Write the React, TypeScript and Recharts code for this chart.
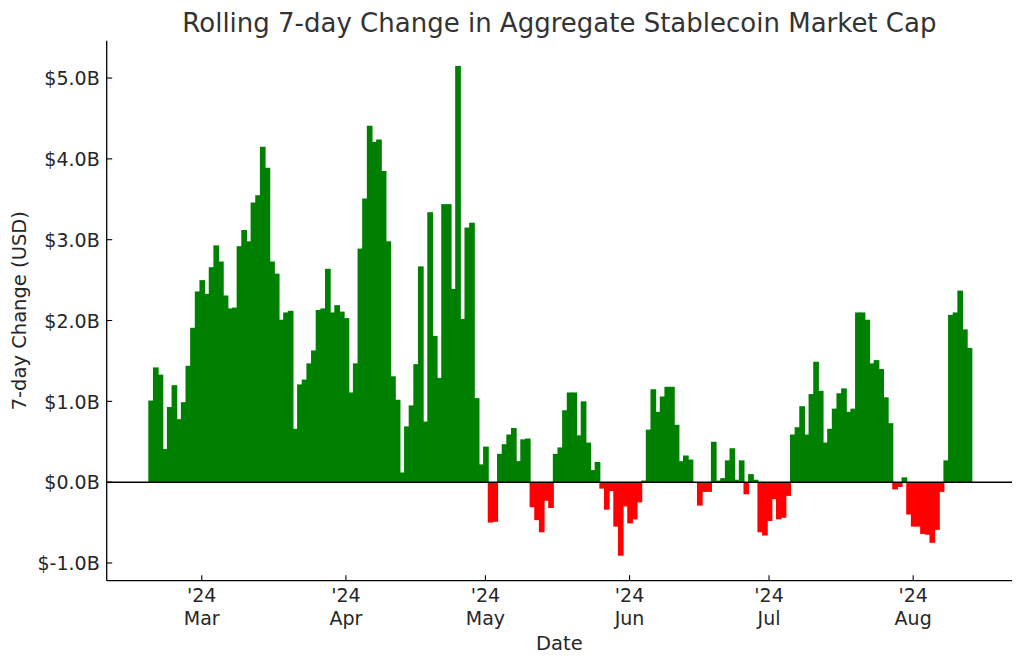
import React from 'react';
import { BarChart, Bar, XAxis, YAxis, ReferenceLine, Label } from 'recharts';

// Rolling 7-day change, billions of USD, one bar per day starting 2024-02-19
const febValues = [1.01, 1.42, 1.33, 0.41, 0.93, 1.2, 0.78, 0.99, 1.44, 1.91, 2.36];
const marValues = [
  2.5, 2.33, 2.66, 2.93, 2.73, 2.31, 2.15, 2.16, 2.92, 3.12, 2.98, 3.46, 3.55, 4.15, 3.89, 2.73,
  2.58, 2.01, 2.1, 2.12, 0.66, 1.21, 1.27, 1.47, 1.63, 2.13, 2.15, 2.64, 2.1, 2.19, 2.11,
];
const aprValues = [
  2.03, 1.11, 1.47, 2.89, 3.51, 4.41, 4.21, 4.24, 3.85, 2.98, 1.31, 1.02, 0.12, 0.69, 0.95, 1.46,
  2.67, 0.75, 3.34, 1.81, 1.29, 3.44, 3.44, 2.39, 5.15, 2.02, 3.15, 3.21, 1.04, 0.22,
];
const mayValues = [
  0.44, -0.5, -0.49, 0.35, 0.47, 0.59, 0.67, 0.26, 0.53, 0.54, -0.31, -0.47, -0.62, -0.23, -0.32,
  0.35, 0.43, 0.89, 1.11, 1.11, 0.58, 1.0, 0.49, 0.15, 0.25, -0.08, -0.34, -0.11, -0.55, -0.91, -0.3,
];
const junValues = [
  -0.51, -0.46, -0.25, 0.02, 0.65, 1.15, 0.87, 1.06, 1.18, 1.18, 0.71, 0.26, 0.33, 0.28, 0.0,
  -0.29, -0.12, -0.12, 0.5, 0.02, 0.05, 0.27, 0.42, 0.03, 0.27, -0.15, 0.1, 0.03, -0.62, -0.66,
];
const julValues = [
  -0.48, -0.21, -0.46, -0.44, -0.17, 0.59, 0.68, 0.94, 0.59, 1.09, 1.49, 1.13, 0.49, 0.66, 0.91,
  1.1, 1.16, 0.87, 0.91, 2.1, 2.1, 2.01, 1.47, 1.51, 1.4, 1.05, 0.73, -0.09, -0.06, 0.06, -0.4,
];
const augValues = [-0.55, -0.55, -0.64, -0.65, -0.75, -0.59, -0.12, 0.27, 2.07, 2.1, 2.37, 1.89, 1.66];

const changeValues = [
  ...febValues, ...marValues, ...aprValues, ...mayValues, ...junValues, ...julValues, ...augValues,
];

const START = Date.UTC(2024, 1, 19);
const dateCategories = changeValues.map((_, i) =>
  new Date(START + i * 86400000).toISOString().slice(0, 10)
);

const monthTicks = ['2024-03-01', '2024-04-01', '2024-05-01', '2024-06-01', '2024-07-01', '2024-08-01'];
const monthNames = ['Jan', 'Feb', 'Mar', 'Apr', 'May', 'Jun', 'Jul', 'Aug', 'Sep', 'Oct', 'Nov', 'Dec'];
const yTicks = [-1, 0, 1, 2, 3, 4, 5];

const data = dateCategories.map((date, i) => ({ date, value: changeValues[i] }));

const FONT = '"DejaVu Sans", sans-serif';
const TEXT = '#262626';
const GREEN = '#008000';
const RED = '#ff0000';

const XTick = (props: any) => {
  const { x, y, payload } = props;
  const d = new Date(payload.value + 'T00:00:00Z');
  const yr = String(d.getUTCFullYear()).slice(2);
  return (
    <g>
      <line x1={x} x2={x} y1={y} y2={y - 5.5} stroke="#000" strokeWidth={1.1} />
      <text x={x} y={y + 21.3} textAnchor="middle" fontSize={19} fontFamily={FONT} fill={TEXT}>
        {`'${yr}`}
      </text>
      <text x={x} y={y + 43.8} textAnchor="middle" fontSize={19} fontFamily={FONT} fill={TEXT}>
        {monthNames[d.getUTCMonth()]}
      </text>
    </g>
  );
};

const YTick = (props: any) => {
  const { x, y, payload } = props;
  return (
    <g>
      <line x1={x} x2={x + 5.5} y1={y} y2={y} stroke="#000" strokeWidth={1.1} />
      <text x={x - 7} y={y} dy="0.38em" textAnchor="end" fontSize={19} fontFamily={FONT} fill={TEXT}>
        {`$${Number(payload.value).toFixed(1)}B`}
      </text>
    </g>
  );
};

const DayBar = (props: any) => {
  const { x, y, width, height, payload } = props;
  if (width == null || height == null) return null;
  let top = y;
  let h = height;
  if (h < 0) {
    top = y + h;
    h = -h;
  }
  const fill = payload && payload.value < 0 ? RED : GREEN;
  return <rect x={x} y={top} width={width + 0.7} height={h} fill={fill} />;
};

export default function App() {
  return (
    <div style={{ position: 'absolute', left: 0, top: 0, width: 1024, height: 665, background: '#fff' }}>
      <BarChart
        width={1024}
        height={665}
        data={data}
        margin={{ top: 40.7, right: 12, bottom: 0, left: 0 }}
        barCategoryGap={0}
        barGap={0}
      >
        <XAxis
          dataKey="date"
          type="category"
          ticks={monthTicks}
          interval={0}
          height={84.3}
          padding={{ left: 41.6, right: 40.7 }}
          tickSize={0}
          tickMargin={0}
          tickLine={false}
          tick={<XTick />}
          axisLine={{ stroke: '#000', strokeWidth: 1.3 }}
        >
          <Label
            content={() => (
              <text x={559.4} y={650} textAnchor="middle" fontSize={19.5} fontFamily={FONT} fill={TEXT}>
                Date
              </text>
            )}
          />
        </XAxis>
        <YAxis
          type="number"
          width={106.7}
          domain={[-1.219, 5.462]}
          allowDataOverflow
          ticks={yTicks}
          interval={0}
          tickSize={0}
          tickMargin={0}
          tickLine={false}
          tick={<YTick />}
          axisLine={{ stroke: '#000', strokeWidth: 1.3 }}
        >
          <Label
            content={() => (
              <text
                x={26}
                y={310.7}
                transform="rotate(-90, 26, 310.7)"
                textAnchor="middle"
                fontSize={19.5}
                fontFamily={FONT}
                fill={TEXT}
              >
                7-day Change (USD)
              </text>
            )}
          />
        </YAxis>
        <Bar dataKey="value" isAnimationActive={false} shape={<DayBar />} />
        <ReferenceLine y={0} stroke="#000" strokeWidth={1.5} ifOverflow="extendDomain" />
      </BarChart>
      <svg
        width={1024}
        height={60}
        style={{ position: 'absolute', left: 0, top: 0, pointerEvents: 'none' }}
      >
        <text x={559.4} y={32} textAnchor="middle" fontSize={26} fontFamily={FONT} fill="#333333">
          Rolling 7-day Change in Aggregate Stablecoin Market Cap
        </text>
      </svg>
    </div>
  );
}
